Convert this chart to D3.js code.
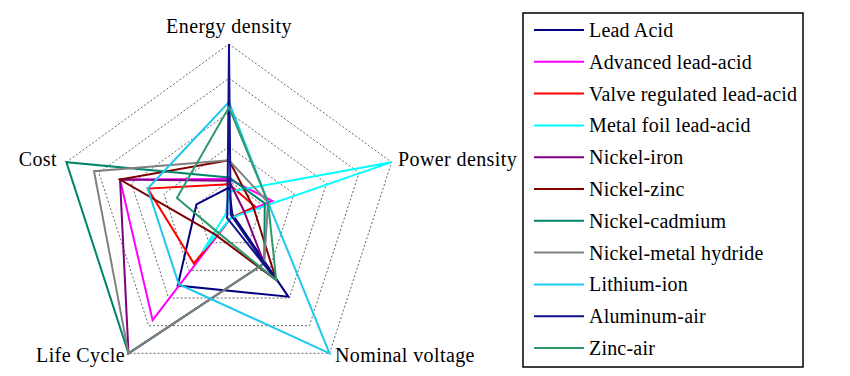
<!DOCTYPE html>
<html>
<head>
<meta charset="utf-8">
<script src="https://cdn.jsdelivr.net/npm/d3@7"></script>
<style>
  body { margin: 0; background: #fff; }
  text { font-family: "Liberation Serif", "Times New Roman", serif; }
</style>
</head>
<body>
<div id="chart"></div>
<script>
// axes, clockwise from the top
const axes = ["Energy density", "Power density", "Nominal voltage", "Life Cycle", "Cost"];

const seriesNames = ["Lead Acid", "Advanced lead-acid", "Valve regulated lead-acid", "Metal foil lead-acid",
  "Nickel-iron", "Nickel-zinc", "Nickel-cadmium", "Nickel-metal hydride", "Lithium-ion", "Aluminum-air", "Zinc-air"];

// values (0..5), same order as axes
const leadAcid      = [0.8, 0.1, 2.95, 2.55, 1.0];
const advancedLead  = [1.05, 1.33, 0.1, 3.8, 3.35];
const valveRegLead  = [0.9, 0.8, 0.1, 1.75, 2.5];
const metalFoilLead = [0.68, 5, 0.1, 1.3, 0.1];
const nickelIron    = [1.0, 0.45, 1.75, 5, 3.35];
const nickelZinc    = [1.6, 0.75, 2.35, 0.7, 3.35];
const nickelCadmium = [1.1, 1.1, 1.75, 5, 5];
const nickelMH      = [1.6, 1.2, 1.75, 5, 4.15];
const lithiumIon    = [3.3, 1.2, 5, 2.5, 2.5];
const aluminumAir   = [5, 0.05, 2.35, 0.1, 0.05];
const zincAir       = [3.15, 1.2, 2.35, 0.6, 1.6];

const gridLevels = [1, 2, 3, 4, 5];

const allSeries = [leadAcid, advancedLead, valveRegLead, metalFoilLead, nickelIron, nickelZinc,
  nickelCadmium, nickelMH, lithiumIon, aluminumAir, zincAir];

const colors = ["#000080", "#ff00ff", "#ff0000", "#00ffff", "#800080", "#800000",
  "#00866b", "#808080", "#1cc8ee", "#10108c", "#2e9a6b"];

var width = 850, height = 376;
var cx = 229, cy = 215, R = 171;

var svg = d3.select("#chart")
  .append("svg")
  .attr("width", width)
  .attr("height", height);

svg.append("rect").attr("width", width).attr("height", height).attr("fill", "#fff");

var r = d3.scaleLinear().domain([0, 5]).range([0, R]);
var angle = d3.scaleLinear().domain([0, axes.length]).range([0, 2 * Math.PI]);

var radar = d3.lineRadial()
  .angle(function(d, i) { return angle(i); })
  .radius(function(d) { return r(d); })
  .curve(d3.curveLinearClosed);

var g = svg.append("g").attr("transform", "translate(" + cx + "," + cy + ")");

// dotted pentagon grid
g.selectAll(".grid")
  .data(gridLevels)
  .enter()
  .append("path")
    .attr("d", function(lv) { return radar(axes.map(function() { return lv; })); })
    .attr("fill", "none")
    .attr("stroke", "#666")
    .attr("stroke-width", 1)
    .attr("stroke-dasharray", "2,2");

// series
g.selectAll(".series")
  .data(allSeries)
  .enter()
  .append("path")
    .attr("d", function(d) { return radar(d); })
    .attr("fill", "none")
    .attr("stroke", function(d, i) { return colors[i]; })
    .attr("stroke-width", 2)
    .attr("stroke-linejoin", "miter");

// axis labels
var labelPos = [
  { dx: 0, dy: -182, anchor: "middle" },
  { dx: 169, dy: -49, anchor: "start" },
  { dx: 106, dy: 147, anchor: "start" },
  { dx: -104, dy: 147, anchor: "end" },
  { dx: -172, dy: -49, anchor: "end" }
];
g.selectAll(".axisLabel")
  .data(axes)
  .enter()
  .append("text")
    .attr("x", function(d, i) { return labelPos[i].dx; })
    .attr("y", function(d, i) { return labelPos[i].dy; })
    .attr("text-anchor", function(d, i) { return labelPos[i].anchor; })
    .attr("font-size", "20px")
    .attr("letter-spacing", "0.4px")
    .attr("fill", "#000")
    .text(function(d) { return d; });

// legend
var legend = svg.append("g");
legend.append("rect")
  .attr("x", 523).attr("y", 13)
  .attr("width", 280).attr("height", 354)
  .attr("fill", "#fff")
  .attr("stroke", "#000")
  .attr("stroke-width", 1.5);

var rowY = d3.scaleLinear().domain([0, seriesNames.length - 1]).range([30, 348]);

var items = legend.selectAll(".item")
  .data(seriesNames)
  .enter()
  .append("g");

items.append("line")
  .attr("x1", 534).attr("x2", 584)
  .attr("y1", function(d, i) { return rowY(i); })
  .attr("y2", function(d, i) { return rowY(i); })
  .attr("stroke", function(d, i) { return colors[i]; })
  .attr("stroke-width", 2);

items.append("text")
  .attr("x", 589)
  .attr("y", function(d, i) { return rowY(i) + 7; })
  .attr("font-size", "20px")
  .attr("letter-spacing", "0.2px")
  .attr("fill", "#000")
  .text(function(d) { return d; });
</script>
</body>
</html>
